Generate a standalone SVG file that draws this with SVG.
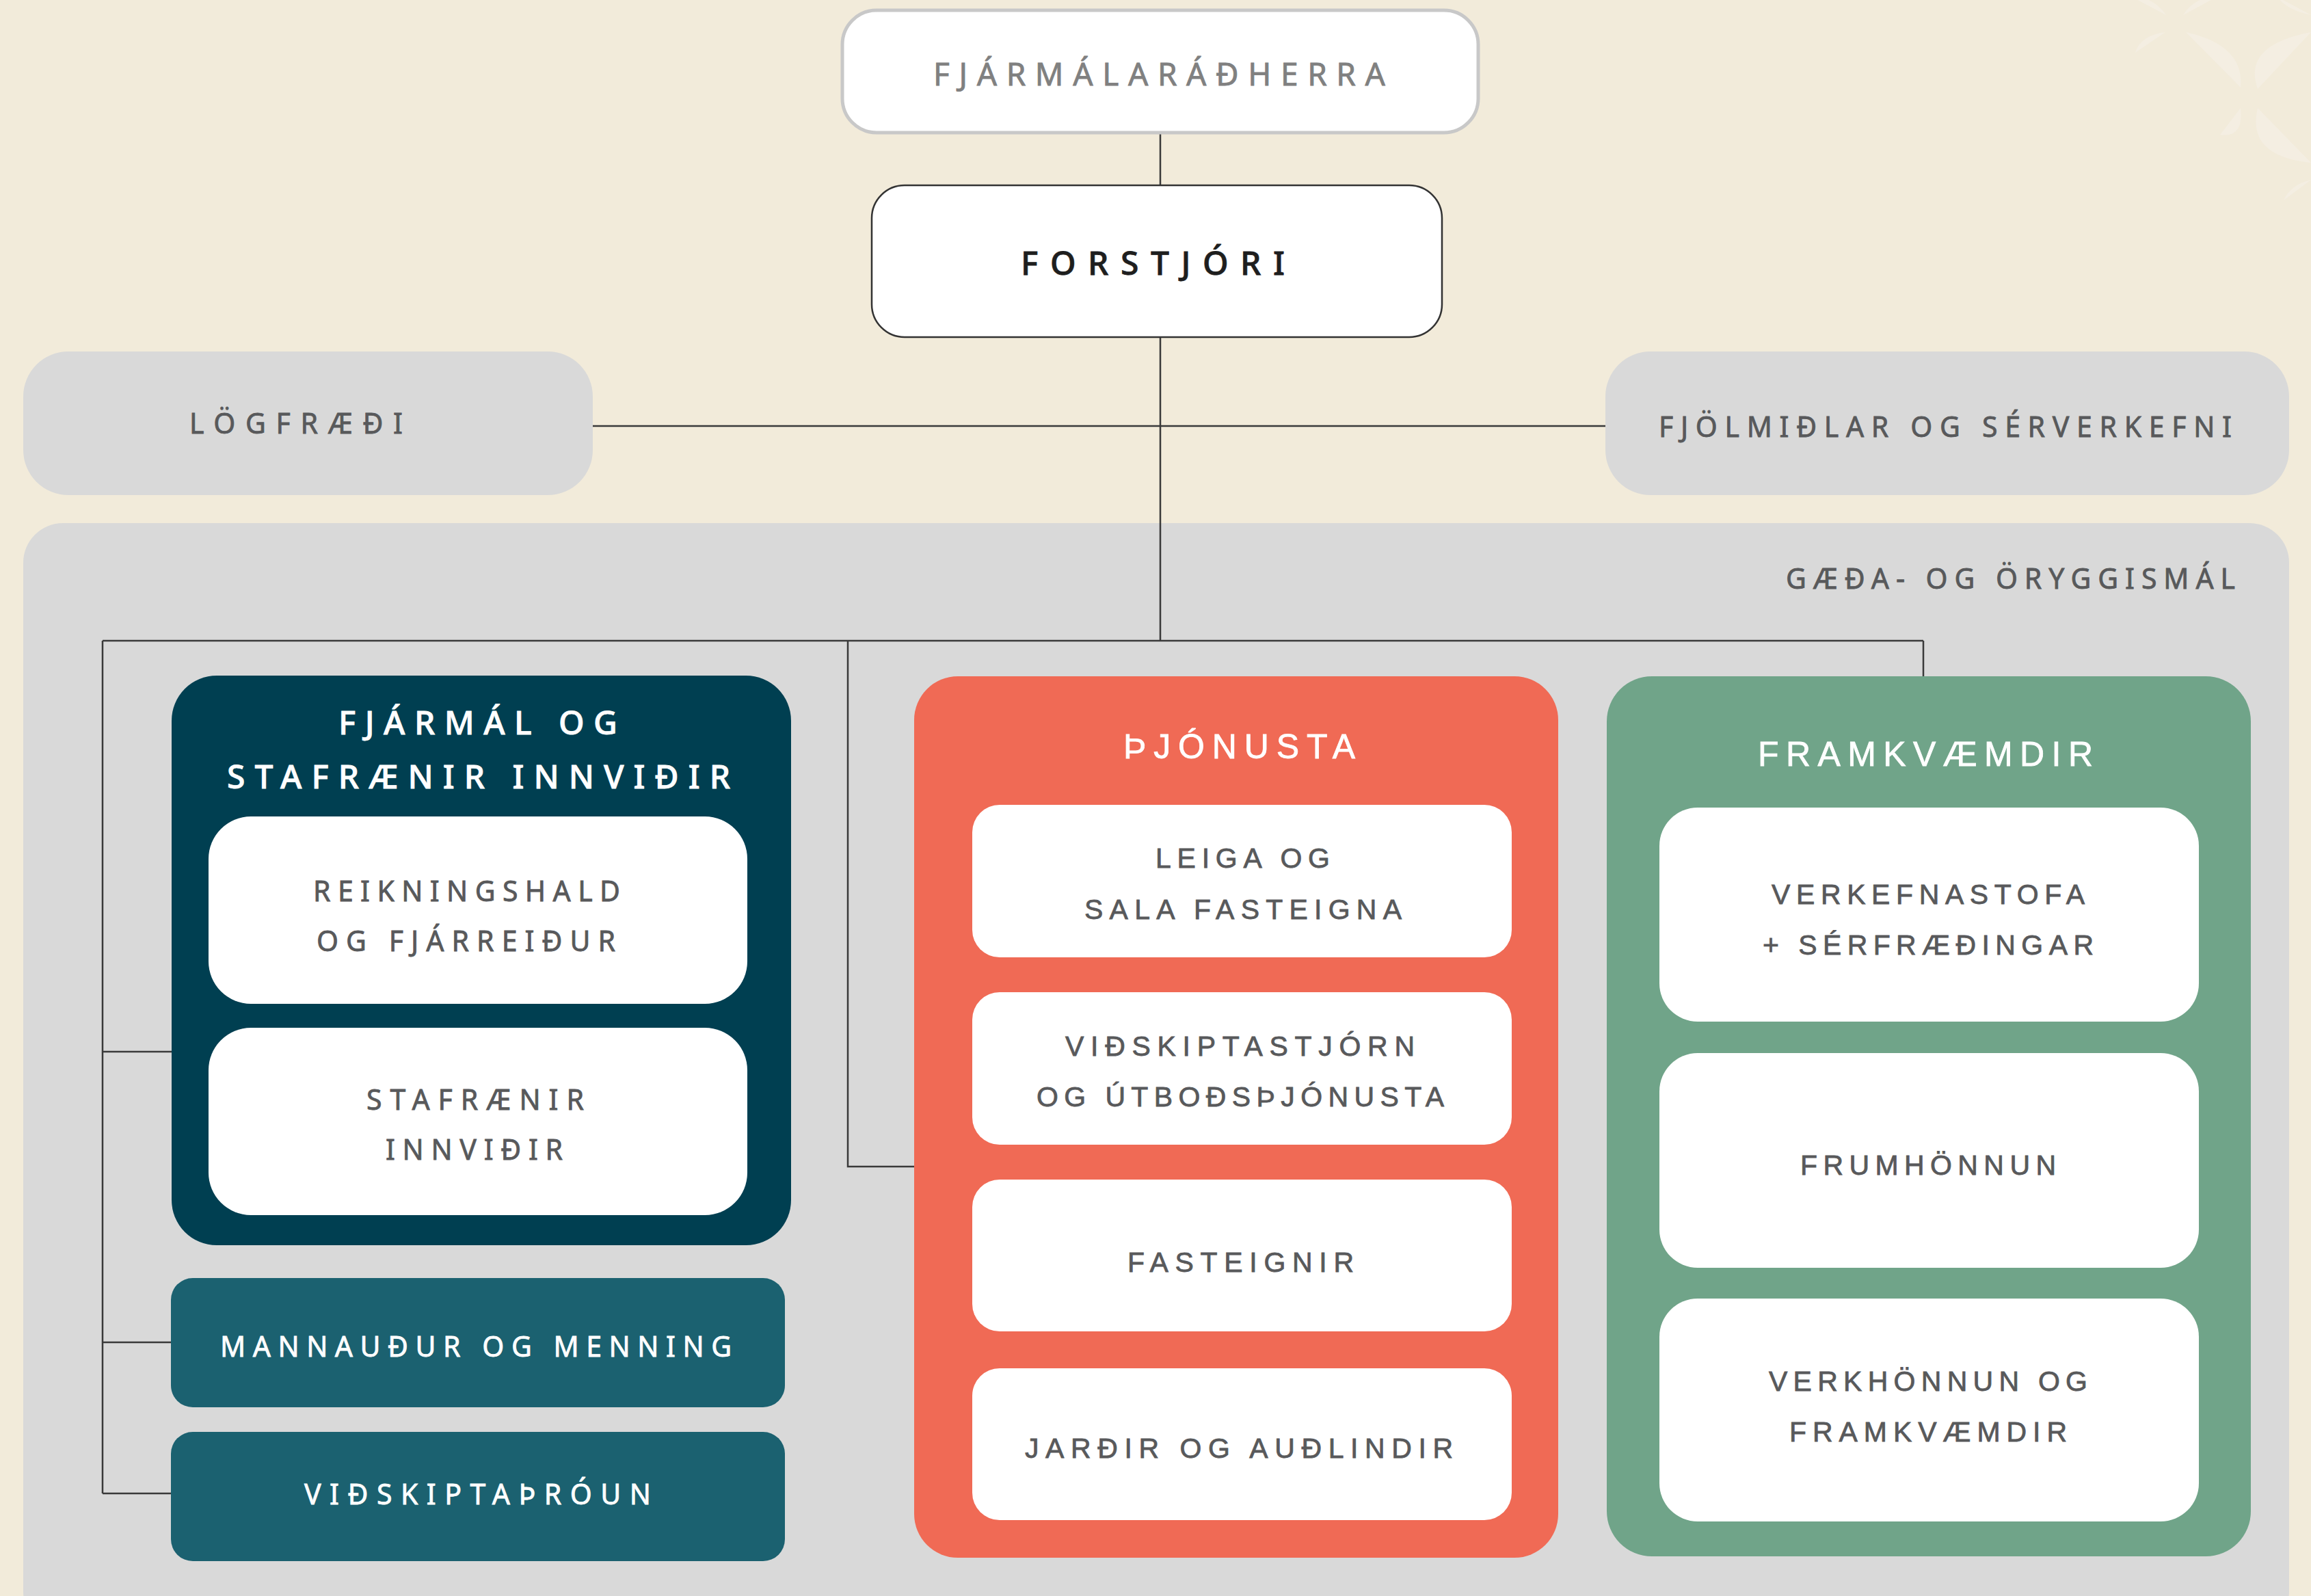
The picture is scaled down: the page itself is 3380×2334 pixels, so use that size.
<svg xmlns="http://www.w3.org/2000/svg" width="3380" height="2334" viewBox="0 0 3380 2334">
<style>
.t{font-family:"Noto Sans","Liberation Sans",sans-serif;font-size:41px;fill:#58595B;stroke:#58595B;stroke-width:0.8px}
.a{font-family:"Liberation Sans",Arial,sans-serif;font-size:41px;fill:#58595B;stroke:#58595B;stroke-width:0.8px}
.w{fill:#FFFFFF;stroke:#FFFFFF}
.ttl{font-size:48px;font-weight:500}
.conn{stroke:#3A3A3A;stroke-width:2.5;fill:none}
.petal{fill:#F4EEE2}
.inner{fill:#FFFFFF}
</style>
<rect x="0" y="0" width="3380" height="2334" fill="#F2EBDA"/>
<g id="decor">
<path class="petal" d="M3302,130 Q3279,66 3380,47 Z"/>
<path class="petal" d="M3197,47 Q3283,66 3277,128 Z"/>
<path class="petal" d="M3302,158 Q3285,228 3380,238 Z"/>
<path class="petal" d="M3277,158 Q3282,202 3247,197 Z"/>
<path class="petal" d="M3168,22 Q3150,-5 3117,-5 Z"/>
<path class="petal" d="M3193,22 Q3210,-5 3243,-5 Z"/>
<path class="petal" d="M3167,47 Q3130,52 3123,77 Z"/>
<path class="petal" d="M3380,22 Q3345,15 3330,-5 Z"/>
<path class="petal" d="M3380,263 Q3350,270 3340,293 Z"/>
</g>
<g id="container">
<rect x="34" y="765" width="3314" height="1620" rx="58" fill="#D9D9D9"/>
<text class="t" x="2612" y="861" textLength="657" lengthAdjust="spacing">GÆÐA- OG ÖRYGGISMÁL</text>
</g>
<g id="connectors">
<line class="conn" x1="1697" y1="195" x2="1697" y2="271"/>
<line class="conn" x1="1697" y1="493" x2="1697" y2="937"/>
<line class="conn" x1="867" y1="623" x2="2348" y2="623"/>
<line class="conn" x1="150" y1="937" x2="2813" y2="937"/>
<line class="conn" x1="2813" y1="937" x2="2813" y2="989"/>
<line class="conn" x1="150" y1="937" x2="150" y2="2184"/>
<line class="conn" x1="150" y1="1538" x2="251" y2="1538"/>
<line class="conn" x1="150" y1="1963" x2="250" y2="1963"/>
<line class="conn" x1="150" y1="2184" x2="250" y2="2184"/>
<polyline class="conn" points="1240,937 1240,1706 1337,1706"/>
</g>
<g id="fjarmalaradherra">
<rect x="1232" y="15" width="930" height="179" rx="50" fill="#FFFFFF" stroke="#C8C8C8" stroke-width="5"/>
<text class="t" x="1365" y="125" style="font-size:46px;fill:#808080;stroke:#808080" textLength="661" lengthAdjust="spacing">FJÁRMÁLARÁÐHERRA</text>
</g>
<g id="forstjori">
<rect x="1275" y="271" width="834" height="222" rx="48" fill="#FFFFFF" stroke="#333333" stroke-width="2.5"/>
<text class="t" x="1493" y="402" style="font-size:48px;fill:#1E1E1E;stroke:#1E1E1E;font-weight:500" textLength="386" lengthAdjust="spacing">FORSTJÓRI</text>
</g>
<g id="logfraedi">
<rect x="34" y="514" width="833" height="210" rx="66" fill="#D9D9D9"/>
<text class="t" x="277" y="634" textLength="312" lengthAdjust="spacing">LÖGFRÆÐI</text>
</g>
<g id="fjolmidlar">
<rect x="2348" y="514" width="1000" height="210" rx="66" fill="#D9D9D9"/>
<text class="t" x="2426" y="639" textLength="838" lengthAdjust="spacing">FJÖLMIÐLAR OG SÉRVERKEFNI</text>
</g>
<g id="fjarmal">
<rect x="251" y="988" width="906" height="833" rx="66" fill="#003F51"/>
<text class="t w ttl" x="495" y="1074" textLength="408" lengthAdjust="spacing">FJÁRMÁL OG</text>
<text class="t w ttl" x="332" y="1153" textLength="736" lengthAdjust="spacing">STAFRÆNIR INNVIÐIR</text>
</g>
<g id="reikningshald">
<rect class="inner" x="305" y="1194" width="788" height="274" rx="62"/>
<text class="t" x="458" y="1318" textLength="449" lengthAdjust="spacing">REIKNINGSHALD</text>
<text class="t" x="463" y="1391" textLength="437" lengthAdjust="spacing">OG FJÁRREIÐUR</text>
</g>
<g id="stafraenir">
<rect class="inner" x="305" y="1503" width="788" height="274" rx="62"/>
<text class="t" x="536" y="1623" textLength="318" lengthAdjust="spacing">STAFRÆNIR</text>
<text class="t" x="564" y="1696" textLength="259" lengthAdjust="spacing">INNVIÐIR</text>
</g>
<g id="mannaudur">
<rect x="250" y="1869" width="898" height="189" rx="32" fill="#1B6170"/>
<text class="t w" x="322" y="1984" textLength="748" lengthAdjust="spacing">MANNAUÐUR OG MENNING</text>
</g>
<g id="vidskiptathroun">
<rect x="250" y="2094" width="898" height="189" rx="32" fill="#1B6170"/>
<text class="t w" x="445" y="2200" textLength="507" lengthAdjust="spacing">VIÐSKIPTAÞRÓUN</text>
</g>
<g id="thjonusta">
<rect x="1337" y="989" width="942" height="1289" rx="64" fill="#F06A55"/>
<text class="a w" x="1643" y="1109" style="font-size:50px" textLength="339" lengthAdjust="spacing">ÞJÓNUSTA</text>
</g>
<g id="leiga">
<rect class="inner" x="1422" y="1177" width="789" height="223" rx="40"/>
<text class="a" x="1690" y="1269" textLength="255" lengthAdjust="spacing">LEIGA OG</text>
<text class="a" x="1586" y="1344" textLength="464" lengthAdjust="spacing">SALA FASTEIGNA</text>
</g>
<g id="vidskiptastjorn">
<rect class="inner" x="1422" y="1451" width="789" height="223" rx="40"/>
<text class="a" x="1558" y="1544" textLength="511" lengthAdjust="spacing">VIÐSKIPTASTJÓRN</text>
<text class="a" x="1516" y="1618" textLength="596" lengthAdjust="spacing">OG ÚTBOÐSÞJÓNUSTA</text>
</g>
<g id="fasteignir">
<rect class="inner" x="1422" y="1725" width="789" height="222" rx="40"/>
<text class="a" x="1649" y="1860" textLength="331" lengthAdjust="spacing">FASTEIGNIR</text>
</g>
<g id="jardir">
<rect class="inner" x="1422" y="2001" width="789" height="222" rx="40"/>
<text class="a" x="1499" y="2132" textLength="626" lengthAdjust="spacing">JARÐIR OG AUÐLINDIR</text>
</g>
<g id="framkvaemdir">
<rect x="2350" y="989" width="942" height="1287" rx="66" fill="#70A489"/>
<text class="a w" x="2571" y="1120" style="font-size:50px" textLength="490" lengthAdjust="spacing">FRAMKVÆMDIR</text>
</g>
<g id="verkefnastofa">
<rect class="inner" x="2427" y="1181" width="789" height="313" rx="56"/>
<text class="a" x="2591" y="1322" textLength="458" lengthAdjust="spacing">VERKEFNASTOFA</text>
<text class="a" x="2578" y="1396" textLength="484" lengthAdjust="spacing">+ SÉRFRÆÐINGAR</text>
</g>
<g id="frumhonnun">
<rect class="inner" x="2427" y="1540" width="789" height="314" rx="56"/>
<text class="a" x="2633" y="1718" textLength="374" lengthAdjust="spacing">FRUMHÖNNUN</text>
</g>
<g id="verkhonnun">
<rect class="inner" x="2427" y="1899" width="789" height="326" rx="56"/>
<text class="a" x="2587" y="2034" textLength="466" lengthAdjust="spacing">VERKHÖNNUN OG</text>
<text class="a" x="2617" y="2108" textLength="406" lengthAdjust="spacing">FRAMKVÆMDIR</text>
</g>
</svg>
